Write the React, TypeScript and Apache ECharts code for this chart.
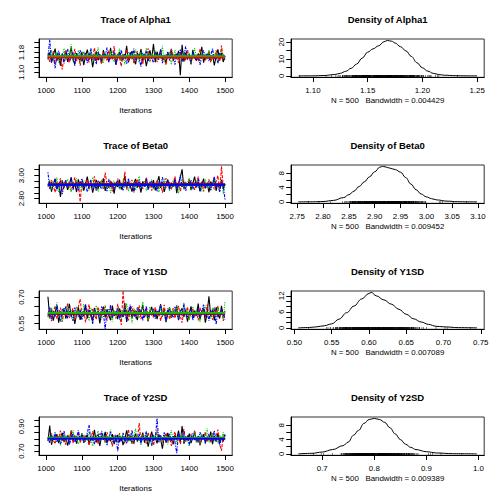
import React, { useEffect, useRef } from "react";
import * as echarts from "echarts";

const FONT = "'Liberation Sans', Arial, Helvetica, sans-serif";
const CHAIN_COLORS = ["#000000", "#FF0000", "#00CD00", "#0000FF"];
const CHAIN_DASH: any[] = ["solid", [3, 1.5], [1.2, 1.2], [1.2, 1.2, 3, 1.2]];

// iterations (thinned by 5, 1005..1500)
const iterations = Array.from({ length: 100 }, (_, i) => 1005 + 5 * i);
const iterationTicks = [1000, 1100, 1200, 1300, 1400, 1500];

const parameterNames = ["Alpha1", "Beta0", "Y1SD", "Y2SD"];
const sampleSize = 500;
const bandwidths = ["0.004429", "0.009452", "0.007089", "0.009389"];

// ---------------- Alpha1 chains ----------------
const alpha1Chain1 = [
  1.152,1.181,1.139,1.170,1.196,1.148,1.163,1.127,1.175,1.158,
  1.188,1.142,1.169,1.201,1.151,1.134,1.178,1.160,1.146,1.183,
  1.129,1.166,1.192,1.155,1.171,1.121,1.162,1.185,1.149,1.174,
  1.137,1.190,1.158,1.168,1.144,1.199,1.153,1.176,1.131,1.164,
  1.182,1.147,1.172,1.157,1.207,1.140,1.167,1.186,1.152,1.133,
  1.179,1.161,1.194,1.145,1.170,1.125,1.163,1.189,1.156,1.215,
  1.141,1.184,1.159,1.192,1.150,1.168,1.136,1.177,1.162,1.195,
  1.147,1.173,1.158,1.187,1.088,1.212,1.143,1.180,1.154,1.170,
  1.132,1.191,1.160,1.148,1.176,1.165,1.203,1.139,1.169,1.157,
  1.184,1.146,1.171,1.128,1.163,1.193,1.151,1.178,1.142,1.167,
];
const alpha1Chain2 = [
  1.170,1.143,1.158,1.186,1.131,1.165,1.177,1.149,1.112,1.168,
  1.190,1.155,1.139,1.174,1.160,1.195,1.146,1.171,1.127,1.163,
  1.182,1.151,1.167,1.140,1.178,1.159,1.199,1.145,1.172,1.156,
  1.134,1.181,1.162,1.148,1.188,1.153,1.169,1.206,1.142,1.176,
  1.158,1.124,1.173,1.164,1.192,1.147,1.161,1.179,1.137,1.170,
  1.185,1.152,1.166,1.133,1.175,1.160,1.197,1.144,1.171,1.155,
  1.180,1.141,1.168,1.186,1.150,1.163,1.130,1.177,1.159,1.193,
  1.146,1.172,1.161,1.138,1.183,1.154,1.169,1.148,1.190,1.164,
  1.136,1.178,1.157,1.171,1.145,1.196,1.160,1.175,1.149,1.166,
  1.183,1.140,1.170,1.155,1.189,1.161,1.143,1.208,1.158,1.165,
];
const alpha1Chain3 = [
  1.176,1.158,1.191,1.147,1.168,1.182,1.140,1.171,1.160,1.197,
  1.150,1.175,1.163,1.214,1.145,1.178,1.155,1.189,1.139,1.167,
  1.184,1.152,1.172,1.161,1.193,1.143,1.176,1.158,1.201,1.149,
  1.170,1.136,1.180,1.164,1.153,1.187,1.168,1.142,1.175,1.159,
  1.196,1.148,1.173,1.132,1.166,1.185,1.157,1.178,1.146,1.192,
  1.162,1.139,1.181,1.169,1.151,1.199,1.165,1.144,1.176,1.158,
  1.188,1.149,1.171,1.163,1.207,1.141,1.174,1.156,1.183,1.131,
  1.168,1.190,1.153,1.177,1.161,1.145,1.186,1.165,1.150,1.179,
  1.137,1.172,1.198,1.157,1.169,1.143,1.184,1.162,1.175,1.152,
  1.191,1.147,1.170,1.160,1.180,1.135,1.167,1.188,1.156,1.173,
];
const alpha1Chain4 = [
  1.158,1.232,1.141,1.172,1.117,1.165,1.187,1.150,1.176,1.136,
  1.169,1.195,1.146,1.161,1.181,1.127,1.173,1.155,1.190,1.144,
  1.166,1.178,1.138,1.162,1.197,1.152,1.171,1.133,1.184,1.159,
  1.147,1.175,1.164,1.200,1.140,1.168,1.156,1.186,1.129,1.172,
  1.160,1.191,1.149,1.177,1.135,1.165,1.182,1.153,1.196,1.143,
  1.170,1.158,1.123,1.179,1.163,1.188,1.146,1.174,1.157,1.139,
  1.181,1.167,1.151,1.194,1.137,1.171,1.160,1.185,1.148,1.176,
  1.163,1.131,1.178,1.156,1.192,1.144,1.169,1.205,1.153,1.173,
  1.140,1.183,1.160,1.149,1.174,1.130,1.166,1.189,1.155,1.178,
  1.145,1.170,1.196,1.152,1.164,1.138,1.180,1.159,1.172,1.150,
];

// ---------------- Beta0 chains ----------------
const beta0Chain1 = [
  2.905,2.948,2.861,2.927,2.972,2.884,2.936,2.815,2.958,2.899,
  2.941,2.876,2.919,2.983,2.892,2.930,2.857,2.966,2.911,2.944,
  2.870,2.925,2.990,2.897,2.938,2.852,2.915,2.961,2.882,2.946,
  2.908,2.975,2.866,2.931,2.893,2.953,2.919,2.844,2.938,2.901,
  2.964,2.879,2.925,2.996,2.888,2.947,2.913,2.860,2.934,2.970,
  2.896,2.922,2.853,2.949,2.910,2.978,2.884,2.938,2.903,2.960,
  2.871,2.929,2.995,2.893,2.942,2.858,2.917,2.965,2.887,2.933,
  2.906,2.968,2.848,2.927,2.985,3.052,2.881,2.940,2.911,2.959,
  2.874,2.931,2.990,2.897,2.945,2.863,2.920,2.972,2.889,2.936,
  2.855,2.948,2.912,2.979,2.868,2.934,2.902,2.962,2.884,2.925,
];
const beta0Chain2 = [
  2.931,2.887,2.960,2.912,2.854,2.945,2.902,2.978,2.873,2.925,
  2.956,2.893,2.941,2.866,2.919,2.983,2.907,2.938,2.772,2.950,
  2.898,2.927,2.965,2.881,2.936,2.909,2.992,2.870,2.944,2.915,
  2.958,2.884,3.025,2.923,2.896,2.951,2.862,2.939,2.906,2.973,
  2.890,2.934,2.918,3.031,2.877,2.948,2.911,2.962,2.859,2.929,
  2.967,2.899,2.941,2.884,2.925,2.981,2.903,2.946,2.869,2.932,
  2.914,2.960,2.891,2.937,2.852,2.921,2.976,2.905,2.943,2.880,
  2.928,2.992,2.897,2.949,2.866,2.916,2.958,2.888,2.935,2.971,
  2.901,2.944,2.875,2.926,2.989,2.910,2.953,2.862,2.938,2.918,
  2.966,2.893,2.931,2.880,2.947,2.999,2.858,3.078,2.902,2.926,
];
const beta0Chain3 = [
  2.912,2.965,2.878,2.940,2.896,2.981,2.857,2.925,2.949,2.883,
  2.934,2.968,2.901,2.857,2.943,2.915,2.976,2.889,2.930,2.868,
  2.955,2.908,2.937,2.874,2.922,2.986,2.895,2.946,2.861,2.918,
  2.962,2.886,2.933,2.903,2.971,2.850,2.927,2.954,2.893,2.940,
  2.879,2.919,2.963,2.898,2.935,2.864,2.952,2.909,2.944,2.872,
  2.928,2.992,2.887,2.916,2.957,2.870,2.938,2.902,2.965,2.881,
  2.923,2.948,2.856,2.932,2.910,2.975,2.891,2.940,2.868,2.918,
  2.955,2.899,2.934,2.845,2.927,2.963,2.885,2.946,2.911,2.979,
  2.873,2.930,2.907,2.958,2.890,2.937,2.862,2.921,2.969,2.895,
  2.943,2.876,2.914,2.960,2.901,2.934,2.869,2.951,2.842,2.918,
];
const beta0Chain4 = [
  3.028,2.885,2.942,2.903,2.966,2.872,2.926,2.951,2.838,2.914,
  2.959,2.893,2.935,2.980,2.877,2.921,2.947,2.866,2.931,2.973,
  2.897,2.940,2.858,2.917,2.962,2.889,2.936,2.872,2.954,2.910,
  2.883,2.945,2.925,2.864,2.967,2.901,2.938,2.879,2.919,2.956,
  2.894,2.932,2.868,2.948,2.907,2.975,2.886,2.929,2.853,2.943,
  2.915,2.961,2.882,2.936,2.898,2.970,2.873,2.924,2.951,2.889,
  2.934,2.862,2.946,2.911,2.985,2.892,2.928,2.957,2.876,2.939,
  2.903,2.968,2.885,2.921,2.998,2.896,2.944,2.868,2.933,2.912,
  2.960,2.881,2.939,2.905,2.974,2.863,2.927,2.949,2.894,2.918,
  2.952,2.871,2.936,2.987,2.899,2.921,2.858,2.945,2.910,2.792,
];

// ---------------- Y1SD chains ----------------
const y1sdChain1 = [
  0.702,0.583,0.631,0.567,0.614,0.649,0.556,0.620,0.596,0.638,
  0.578,0.611,0.662,0.589,0.625,0.548,0.604,0.644,0.571,0.617,
  0.593,0.655,0.580,0.628,0.607,0.566,0.640,0.598,0.621,0.552,
  0.612,0.646,0.585,0.630,0.601,0.569,0.652,0.594,0.619,0.576,
  0.636,0.603,0.588,0.667,0.560,0.615,0.641,0.582,0.626,0.598,
  0.571,0.633,0.609,0.657,0.586,0.622,0.563,0.611,0.645,0.592,
  0.628,0.575,0.618,0.660,0.597,0.634,0.558,0.606,0.642,0.584,
  0.623,0.599,0.653,0.570,0.614,0.637,0.589,0.627,0.561,0.608,
  0.648,0.581,0.624,0.596,0.664,0.573,0.619,0.635,0.555,0.612,
  0.705,0.590,0.629,0.568,0.643,0.602,0.579,0.651,0.594,0.621,
];
const y1sdChain2 = [
  0.587,0.629,0.564,0.616,0.650,0.578,0.603,0.641,0.560,0.622,
  0.595,0.668,0.582,0.613,0.637,0.571,0.608,0.647,0.690,0.598,
  0.626,0.557,0.612,0.659,0.585,0.633,0.600,0.574,0.645,0.606,
  0.583,0.624,0.652,0.567,0.610,0.639,0.591,0.620,0.578,0.662,
  0.601,0.543,0.736,0.597,0.632,0.569,0.614,0.648,0.588,0.625,
  0.607,0.654,0.576,0.619,0.595,0.640,0.562,0.628,0.605,0.585,
  0.644,0.599,0.622,0.566,0.613,0.657,0.590,0.630,0.574,0.609,
  0.638,0.581,0.617,0.650,0.593,0.555,0.626,0.604,0.646,0.579,
  0.611,0.635,0.587,0.620,0.569,0.641,0.600,0.623,0.583,0.658,
  0.596,0.615,0.572,0.634,0.607,0.651,0.589,0.628,0.565,0.612,
];
const y1sdChain3 = [
  0.612,0.575,0.643,0.596,0.629,0.671,0.584,0.618,0.557,0.637,
  0.603,0.652,0.588,0.624,0.568,0.611,0.645,0.593,0.632,0.579,
  0.661,0.600,0.621,0.565,0.640,0.608,0.586,0.654,0.597,0.627,
  0.574,0.616,0.648,0.590,0.635,0.602,0.562,0.626,0.583,0.644,
  0.609,0.577,0.631,0.595,0.665,0.587,0.619,0.552,0.638,0.604,
  0.628,0.581,0.613,0.673,0.592,0.623,0.569,0.647,0.599,0.634,
  0.580,0.617,0.606,0.656,0.589,0.625,0.560,0.612,0.642,0.586,
  0.630,0.598,0.649,0.575,0.620,0.603,0.668,0.591,0.626,0.571,
  0.614,0.646,0.584,0.633,0.600,0.558,0.627,0.605,0.653,0.594,
  0.621,0.578,0.639,0.609,0.586,0.643,0.597,0.616,0.574,0.677,
];
const y1sdChain4 = [
  0.596,0.644,0.572,0.618,0.589,0.657,0.605,0.563,0.633,0.601,
  0.650,0.580,0.623,0.594,0.566,0.641,0.610,0.587,0.629,0.570,
  0.615,0.660,0.592,0.627,0.603,0.548,0.636,0.598,0.620,0.576,
  0.647,0.607,0.519,0.631,0.593,0.655,0.582,0.616,0.600,0.639,
  0.574,0.612,0.590,0.630,0.565,0.621,0.658,0.595,0.608,0.581,
  0.642,0.604,0.627,0.569,0.613,0.649,0.586,0.619,0.597,0.634,
  0.578,0.624,0.601,0.653,0.590,0.611,0.562,0.637,0.599,0.622,
  0.583,0.645,0.606,0.574,0.628,0.592,0.660,0.609,0.585,0.616,
  0.632,0.570,0.614,0.596,0.640,0.581,0.623,0.657,0.593,0.610,
  0.567,0.628,0.600,0.641,0.545,0.619,0.588,0.633,0.604,0.573,
];

// ---------------- Y2SD chains ----------------
const y2sdChain1 = [
  0.782,0.908,0.751,0.815,0.793,0.838,0.764,0.806,0.849,0.773,
  0.820,0.745,0.797,0.862,0.778,0.827,0.760,0.811,0.790,0.845,
  0.769,0.803,0.834,0.752,0.818,0.786,0.873,0.771,0.809,0.741,
  0.824,0.795,0.856,0.766,0.812,0.780,0.839,0.757,0.801,0.831,
  0.774,0.816,0.748,0.799,0.868,0.783,0.822,0.761,0.807,0.842,
  0.777,0.814,0.792,0.851,0.768,0.826,0.736,0.804,0.858,0.785,
  0.812,0.763,0.835,0.796,0.720,0.819,0.776,0.848,0.789,0.808,
  0.754,0.830,0.798,0.866,0.772,0.904,0.759,0.817,0.787,0.843,
  0.765,0.810,0.852,0.779,0.823,0.747,0.801,0.837,0.770,0.813,
  0.794,0.859,0.756,0.821,0.784,0.846,0.767,0.809,0.778,0.833,
];
const y2sdChain2 = [
  0.816,0.771,0.845,0.790,0.758,0.829,0.803,0.866,0.779,0.812,
  0.750,0.837,0.797,0.871,0.764,0.822,0.785,0.853,0.768,0.808,
  0.834,0.776,0.819,0.747,0.800,0.862,0.789,0.825,0.758,0.843,
  0.794,0.816,0.769,0.855,0.782,0.811,0.738,0.831,0.798,0.774,
  0.846,0.787,0.820,0.762,0.805,0.877,0.781,0.827,0.753,0.818,
  0.796,0.928,0.772,0.839,0.807,0.760,0.851,0.791,0.824,0.745,
  0.813,0.867,0.784,0.830,0.766,0.801,0.848,0.775,0.820,0.742,
  0.809,0.858,0.788,0.833,0.757,0.815,0.880,0.780,0.826,0.763,
  0.841,0.797,0.870,0.771,0.811,0.749,0.836,0.793,0.857,0.777,
  0.822,0.765,0.847,0.786,0.814,0.875,0.759,0.702,0.829,0.795,
];
const y2sdChain3 = [
  0.795,0.836,0.767,0.813,0.852,0.781,0.819,0.746,0.803,0.841,
  0.776,0.827,0.762,0.809,0.868,0.788,0.822,0.755,0.799,0.847,
  0.771,0.815,0.783,0.859,0.798,0.740,0.824,0.791,0.865,0.774,
  0.810,0.842,0.766,0.828,0.789,0.876,0.757,0.817,0.801,0.773,
  0.835,0.796,0.851,0.768,0.812,0.779,0.844,0.761,0.820,0.882,
  0.787,0.808,0.751,0.831,0.794,0.862,0.775,0.816,0.743,0.826,
  0.800,0.856,0.782,0.811,0.769,0.839,0.793,0.754,0.823,0.871,
  0.785,0.814,0.760,0.833,0.797,0.849,0.772,0.818,0.790,0.737,
  0.828,0.806,0.863,0.778,0.815,0.752,0.840,0.796,0.824,0.884,
  0.770,0.809,0.845,0.783,0.818,0.764,0.831,0.799,0.853,0.781,
];
const y2sdChain4 = [
  0.804,0.768,0.833,0.786,0.850,0.775,0.818,0.759,0.797,0.862,
  0.781,0.824,0.752,0.811,0.842,0.773,0.806,0.869,0.790,0.828,
  0.766,0.815,0.847,0.912,0.783,0.820,0.757,0.801,0.838,0.779,
  0.864,0.793,0.826,0.748,0.812,0.855,0.787,0.764,0.831,0.698,
  0.819,0.776,0.845,0.799,0.761,0.836,0.785,0.873,0.770,0.814,
  0.792,0.840,0.756,0.823,0.806,0.859,0.780,0.817,0.744,0.832,
  0.797,0.968,0.771,0.827,0.789,0.852,0.765,0.810,0.839,0.783,
  0.821,0.774,0.683,0.846,0.796,0.813,0.862,0.778,0.825,0.753,
  0.808,0.843,0.787,0.819,0.768,0.854,0.794,0.830,0.760,0.816,
  0.837,0.781,0.802,0.866,0.775,0.822,0.747,0.811,0.788,0.835,
];

// smoothed (lowess-like) chain levels: one value per chain
const alpha1Smooth = [1.163, 1.160, 1.166, 1.164];
const beta0Smooth = [2.921, 2.924, 2.918, 2.920];
const y1sdSmooth = [0.609, 0.607, 0.611, 0.605];
const y2sdSmooth = [0.803, 0.806, 0.808, 0.801];

// ---------------- densities ----------------
const alpha1DensX = [1.087,1.100,1.110,1.120,1.125,1.130,1.135,1.140,1.145,1.150,1.155,1.160,1.165,1.168,1.172,1.175,1.180,1.185,1.190,1.195,1.200,1.205,1.210,1.215,1.220,1.230,1.240,1.250];
const alpha1DensY = [0.0,0.03,0.2,0.8,1.5,2.7,4.5,7.0,10.5,14.0,16.0,17.8,20.2,21.0,20.5,19.5,17.3,14.8,11.5,7.8,4.8,2.8,1.5,0.8,0.4,0.12,0.03,0.0];

const beta0DensX = [2.752,2.780,2.800,2.820,2.840,2.850,2.860,2.870,2.880,2.890,2.900,2.910,2.915,2.920,2.930,2.940,2.950,2.960,2.970,2.980,2.990,3.000,3.010,3.020,3.040,3.060,3.080,3.098];
const beta0DensY = [0.0,0.02,0.1,0.4,1.2,2.0,3.0,4.3,5.6,7.0,8.4,9.7,9.9,9.8,9.4,9.0,8.3,6.8,5.0,3.4,2.2,1.4,0.9,0.55,0.2,0.05,0.01,0.0];

const y1sdDensX = [0.505,0.520,0.530,0.540,0.550,0.560,0.570,0.580,0.590,0.600,0.603,0.610,0.620,0.630,0.640,0.650,0.660,0.670,0.680,0.690,0.700,0.720,0.745];
const y1sdDensY = [0.0,0.15,0.4,0.8,1.5,3.3,5.7,8.2,10.8,12.9,13.3,12.0,10.5,8.9,7.0,5.1,3.4,2.2,1.3,0.6,0.4,0.1,0.0];

const y2sdDensX = [0.654,0.680,0.700,0.720,0.740,0.750,0.760,0.770,0.780,0.790,0.800,0.810,0.820,0.830,0.840,0.850,0.860,0.870,0.880,0.900,0.920,0.950,0.997];
const y2sdDensY = [0.0,0.15,0.5,1.2,2.3,3.3,5.2,6.6,8.5,9.6,9.9,9.6,8.8,7.3,5.6,4.0,2.7,1.8,1.2,0.6,0.25,0.06,0.0];

// ---------------- axis ticks / labels ----------------
const alpha1TraceTicks = [1.10, 1.12, 1.14, 1.16, 1.18, 1.20, 1.22];
const alpha1TraceLabels = [1.10, 1.18];
const beta0TraceTicks = [2.80, 2.85, 2.90, 2.95, 3.00, 3.05];
const beta0TraceLabels = [2.80, 3.00];
const y1sdTraceTicks = [0.55, 0.60, 0.65, 0.70];
const y1sdTraceLabels = [0.55, 0.70];
const y2sdTraceTicks = [0.70, 0.75, 0.80, 0.85, 0.90, 0.95];
const y2sdTraceLabels = [0.70, 0.90];

const alpha1DensXTicks = [1.10, 1.15, 1.20, 1.25];
const beta0DensXTicks = [2.75, 2.80, 2.85, 2.90, 2.95, 3.00, 3.05, 3.10];
const y1sdDensXTicks = [0.50, 0.55, 0.60, 0.65, 0.70, 0.75];
const y2sdDensXTicks = [0.7, 0.8, 0.9, 1.0];

const alpha1DensYTicks = [0, 5, 10, 15, 20];
const alpha1DensYLabels = [0, 10, 20];
const beta0DensYTicks = [0, 2, 4, 6, 8];
const beta0DensYLabels = [0, 4, 8];
const y1sdDensYTicks = [0, 2, 4, 6, 8, 10, 12];
const y1sdDensYLabels = [0, 6, 12];
const y2sdDensYTicks = [0, 2, 4, 6, 8];
const y2sdDensYLabels = [0, 4, 8];

// ---------------- layout (pixels / axis ranges) ----------------
const ROW_H = 126;
const BOX_TOP = 39;
const BOX_H = 38.3;
const BOX_W = 193.2;
const TRACE_LEFT = 39;
const DENS_LEFT = 291;

const rows = [
  {
    chains: [alpha1Chain1, alpha1Chain2, alpha1Chain3, alpha1Chain4], smooth: alpha1Smooth, smoothOrder: [0, 3, 2, 1],
    traceRange: [1.08, 1.235], traceTicks: alpha1TraceTicks, traceLabels: alpha1TraceLabels,
    densX: alpha1DensX, densY: alpha1DensY, densXRange: [1.080, 1.2565], densXTicks: alpha1DensXTicks, densXDec: 2,
    densYRange: [-0.84, 21.84], densYTicks: alpha1DensYTicks, densYLabels: alpha1DensYLabels,
  },
  {
    chains: [beta0Chain1, beta0Chain2, beta0Chain3, beta0Chain4], smooth: beta0Smooth, smoothOrder: [1, 2, 0, 3],
    traceRange: [2.76, 3.09], traceTicks: beta0TraceTicks, traceLabels: beta0TraceLabels,
    densX: beta0DensX, densY: beta0DensY, densXRange: [2.738, 3.112], densXTicks: beta0DensXTicks, densXDec: 2,
    densYRange: [-0.4, 10.3], densYTicks: beta0DensYTicks, densYLabels: beta0DensYLabels,
  },
  {
    chains: [y1sdChain1, y1sdChain2, y1sdChain3, y1sdChain4], smooth: y1sdSmooth, smoothOrder: [3, 0, 1, 2],
    traceRange: [0.518, 0.735], traceTicks: y1sdTraceTicks, traceLabels: y1sdTraceLabels,
    densX: y1sdDensX, densY: y1sdDensY, densXRange: [0.4954, 0.7546], densXTicks: y1sdDensXTicks, densXDec: 2,
    densYRange: [-0.53, 13.83], densYTicks: y1sdDensYTicks, densYLabels: y1sdDensYLabels,
  },
  {
    chains: [y2sdChain1, y2sdChain2, y2sdChain3, y2sdChain4], smooth: y2sdSmooth, smoothOrder: [1, 0, 2, 3],
    traceRange: [0.665, 0.978], traceTicks: y2sdTraceTicks, traceLabels: y2sdTraceLabels,
    densX: y2sdDensX, densY: y2sdDensY, densXRange: [0.640, 1.011], densXTicks: y2sdDensXTicks, densXDec: 1,
    densYRange: [-0.4, 10.3], densYTicks: y2sdDensYTicks, densYLabels: y2sdDensYLabels,
  },
];

const TXT = { fontSize: 7.92, color: "#000", fontFamily: FONT };

function buildOption() {
  const grids: any[] = [];
  const xAxes: any[] = [];
  const yAxes: any[] = [];
  const series: any[] = [];
  const graphic: any[] = [];

  const axisLine = { show: true, onZero: false, lineStyle: { color: "#000", width: 1 } };

  rows.forEach((row, r) => {
    const top = BOX_TOP + ROW_H * r;
    const gi = 2 * r;
    const di = 2 * r + 1;
    const gridBase = { top, height: BOX_H, width: BOX_W, show: true, borderColor: "#333", borderWidth: 1, containLabel: false };
    grids.push({ ...gridBase, left: TRACE_LEFT });
    grids.push({ ...gridBase, left: DENS_LEFT });

    // trace axes
    xAxes.push({
      gridIndex: gi, type: "value", min: 980, max: 1520,
      axisLine, splitLine: { show: false },
      axisTick: { show: true, length: 4.75, customValues: iterationTicks, lineStyle: { color: "#000" } },
      axisLabel: { ...TXT, customValues: iterationTicks, margin: 9, formatter: (v: number) => String(v) },
      name: "Iterations", nameLocation: "middle", nameGap: 29.5, nameTextStyle: { ...TXT },
    });
    yAxes.push({
      gridIndex: gi, type: "value", min: row.traceRange[0], max: row.traceRange[1],
      axisLine, splitLine: { show: false },
      axisTick: { show: true, length: 4.75, customValues: row.traceTicks, lineStyle: { color: "#000" } },
      axisLabel: { ...TXT, customValues: row.traceLabels, rotate: 90, margin: 13.5, formatter: (v: number) => v.toFixed(2) },
    });
    // density axes
    xAxes.push({
      gridIndex: di, type: "value", min: row.densXRange[0], max: row.densXRange[1],
      axisLine, splitLine: { show: false },
      axisTick: { show: true, length: 4.75, customValues: row.densXTicks, lineStyle: { color: "#000" } },
      axisLabel: { ...TXT, customValues: row.densXTicks, margin: 9, formatter: (v: number) => v.toFixed(row.densXDec) },
      name: `N = ${sampleSize}   Bandwidth = ${bandwidths[r]}`, nameLocation: "middle", nameGap: 19, nameTextStyle: { ...TXT },
    });
    yAxes.push({
      gridIndex: di, type: "value", min: row.densYRange[0], max: row.densYRange[1],
      axisLine, splitLine: { show: false },
      axisTick: { show: true, length: 4.75, customValues: row.densYTicks, lineStyle: { color: "#000" } },
      axisLabel: { ...TXT, customValues: row.densYLabels, rotate: 90, margin: 6, formatter: (v: number) => String(v) },
    });

    // trace series
    row.chains.forEach((chain, c) => {
      series.push({
        type: "line", xAxisIndex: gi, yAxisIndex: gi, silent: true,
        data: iterations.map((it, i) => [it, chain[i]]),
        showSymbol: false, symbol: "none",
        lineStyle: { color: CHAIN_COLORS[c], width: 1.1, type: CHAIN_DASH[c] },
        z: 2 + c,
      });
    });
    row.smoothOrder.forEach((c, k) => {
      series.push({
        type: "line", xAxisIndex: gi, yAxisIndex: gi, silent: true,
        data: [[iterations[0], row.smooth[c]], [iterations[iterations.length - 1], row.smooth[c]]],
        showSymbol: false, symbol: "none",
        lineStyle: { color: CHAIN_COLORS[c], width: 1.8 },
        z: 10 + k,
      });
    });

    // density curve
    series.push({
      type: "line", xAxisIndex: di, yAxisIndex: di, silent: true,
      data: row.densX.map((x, i) => [x, row.densY[i]]),
      showSymbol: false, symbol: "none", smooth: 0.4, smoothMonotone: "x",
      lineStyle: { color: "#000", width: 1 },
      z: 5,
    });
    // rug
    const pooled: number[] = ([] as number[]).concat(...row.chains);
    series.push({
      type: "scatter", xAxisIndex: di, yAxisIndex: di, silent: true,
      data: pooled.map((v) => [v, row.densYRange[0]]),
      symbol: "rect", symbolSize: [0.6, 2.4], symbolOffset: [0, -1.2],
      itemStyle: { color: "#000", opacity: 0.8 },
      z: 4,
    });

    // titles
    graphic.push({
      type: "text", x: TRACE_LEFT + BOX_W / 2, y: 19.5 + ROW_H * r, silent: true,
      style: { text: `Trace of ${parameterNames[r]}`, fontSize: 9.5, fontWeight: "bold", fontFamily: FONT, fill: "#000",
        textAlign: "center", textVerticalAlign: "middle", align: "center", verticalAlign: "middle" },
    });
    graphic.push({
      type: "text", x: DENS_LEFT + BOX_W / 2, y: 19.5 + ROW_H * r, silent: true,
      style: { text: `Density of ${parameterNames[r]}`, fontSize: 9.5, fontWeight: "bold", fontFamily: FONT, fill: "#000",
        textAlign: "center", textVerticalAlign: "middle", align: "center", verticalAlign: "middle" },
    });
  });

  return {
    animation: false,
    backgroundColor: "#ffffff",
    grid: grids,
    xAxis: xAxes,
    yAxis: yAxes,
    series,
    graphic,
  };
}

export default function App() {
  const ref = useRef<HTMLDivElement>(null);
  useEffect(() => {
    if (!ref.current) return;
    const chart = echarts.init(ref.current, undefined, { renderer: "svg" });
    chart.setOption(buildOption() as any);
    return () => chart.dispose();
  }, []);
  return (
    <div
      ref={ref}
      style={{ position: "fixed", left: 0, top: 0, width: 504, height: 504, background: "#fff" }}
    />
  );
}
